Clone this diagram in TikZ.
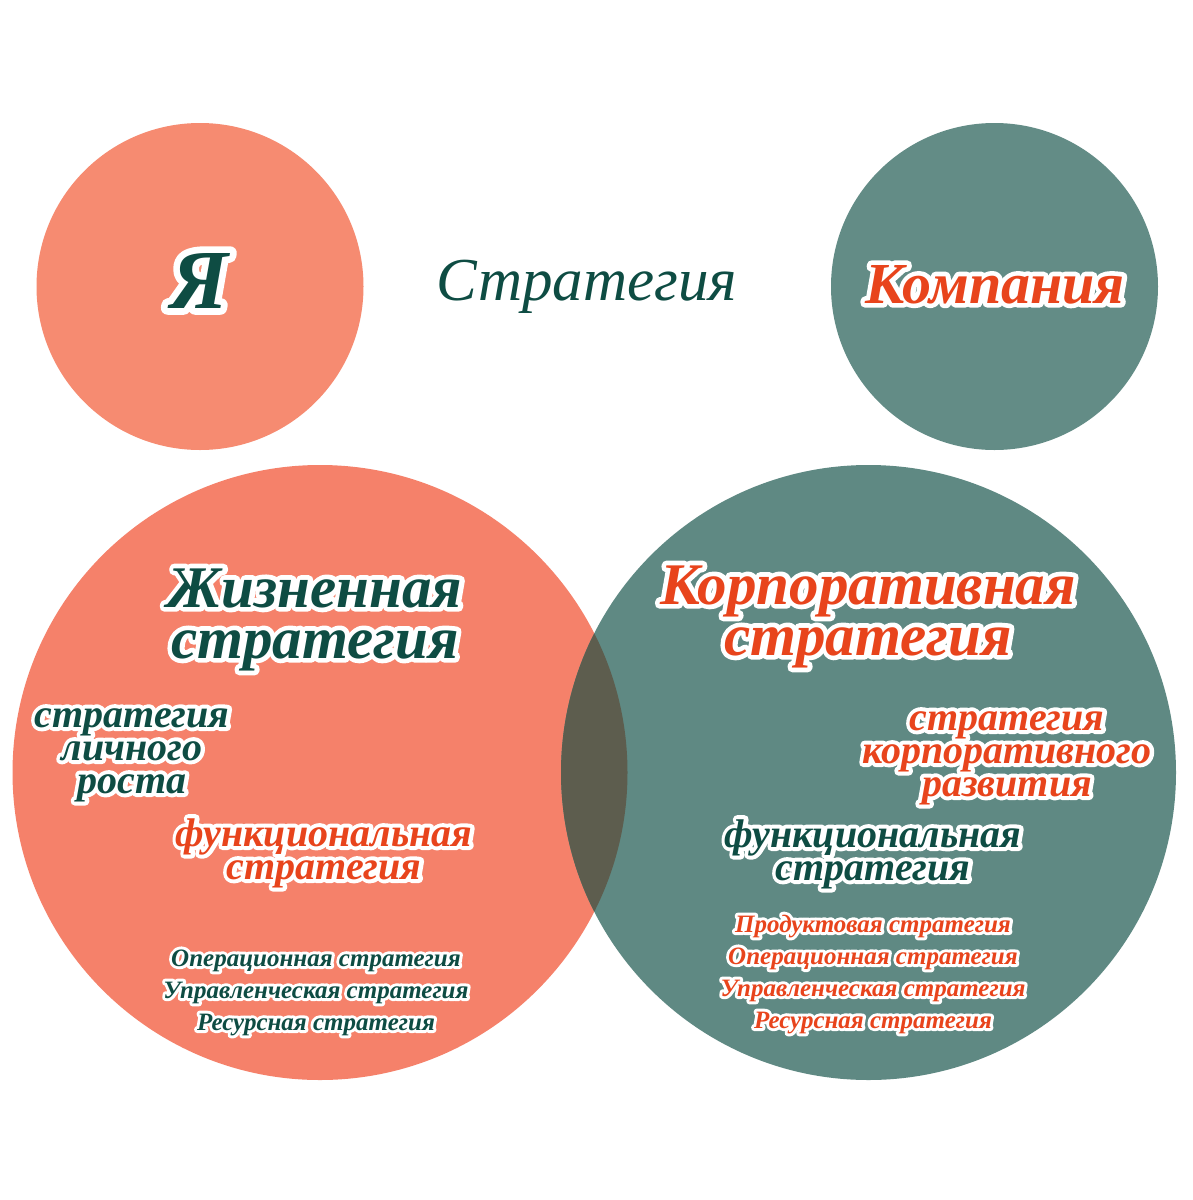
\documentclass[tikz,border=0pt]{standalone}
\usepackage{fontspec}
\setmainfont{Liberation Serif}
\newfontfamily\haloA[FakeBold=16]{Liberation Serif}
\newfontfamily\haloB[FakeBold=20]{Liberation Serif}
\newfontfamily\haloC[FakeBold=24]{Liberation Serif}
\definecolor{salmonA}{HTML}{F68B71}
\definecolor{salmonB}{HTML}{F5816A}
\definecolor{tealA}{HTML}{638C86}
\definecolor{tealB}{HTML}{5F8983}
\definecolor{overlapC}{HTML}{5D5D4E}
\definecolor{darkteal}{HTML}{0E4C43}
\definecolor{redorange}{HTML}{E8441C}
\let\halofam\haloA
\newcommand{\hl}[1]{\rlap{\special{pdf:literal direct 1 j 1 J}\halofam\color{white}#1}#1}
\newcommand{\szf}[3]{\fontsize{#1}{#2}\selectfont\lineskiplimit=-1000pt\let\halofam#3\bfseries\itshape}
\tikzset{
  disc/.style={circle, inner sep=0pt, minimum size=327pt},
  bigdisc/.style={circle, inner sep=0pt, minimum size=615pt},
  txt/.style={inner sep=0pt, align=center, anchor=base},
  title/.style={txt, font=\szf{59}{51}{\haloA}},
  mid/.style={txt, font=\szf{40}{33}{\haloB}},
  small/.style={txt, font=\szf{25}{32}{\haloC}},
}
\begin{document}
\begin{tikzpicture}[x=1pt,y=-1pt]
\useasboundingbox (0,0) rectangle (1193,1200);
\fill[white] (0,0) rectangle (1193,1200);
% circles
\node[disc, fill=salmonA] (me) at (200,286.5) {};
\node[disc, fill=tealA] (company) at (994.5,286.5) {};
\node[bigdisc, fill=salmonB] (life) at (320,772.5) {};
\node[bigdisc, fill=tealB] (corp) at (868.5,772.5) {};
\begin{scope}
  \clip (320,772.5) circle (307.5pt);
  \fill[overlapC] (868.5,772.5) circle (307.5pt);
\end{scope}
% top texts
\node[txt, text=darkteal, font=\szf{84}{84}{\haloA}] (ya) at (199,308) {\hl{Я}};
\node[txt, text=darkteal, font=\fontsize{61}{61}\selectfont\itshape] (strat) at (587,300) {Стратегия};
\node[txt, text=redorange, font=\szf{58}{58}{\haloA}] (komp) at (995,303) {\hl{Компания}};
% left big circle
\node[title, text=darkteal] (lifet) at (315,658) {\hl{Жизненная}\\\hl{стратегия}};
\node[mid, text=darkteal] (growth) at (132,793) {\hl{стратегия}\\\hl{личного}\\\hl{роста}};
\node[mid, text=redorange] (funcL) at (324,879) {\hl{функциональная}\\\hl{стратегия}};
\node[small, text=darkteal] (listL) at (316,1030) {\hl{Операционная стратегия}\\\hl{Управленческая стратегия}\\\hl{Ресурсная стратегия}};
% right big circle
\node[title, text=redorange] (corpt) at (868,655) {\hl{Корпоративная}\\\hl{стратегия}};
\node[mid, text=redorange] (devt) at (1007,796) {\hl{стратегия}\\\hl{корпоративного}\\\hl{развития}};
\node[mid, text=darkteal] (funcR) at (873,880) {\hl{функциональная}\\\hl{стратегия}};
\node[small, text=redorange] (listR) at (873,1028) {\hl{Продуктовая стратегия}\\\hl{Операционная стратегия}\\\hl{Управленческая стратегия}\\\hl{Ресурсная стратегия}};
\end{tikzpicture}
\end{document}
